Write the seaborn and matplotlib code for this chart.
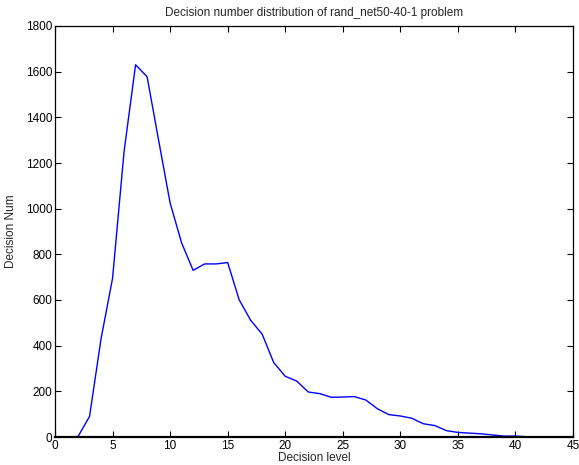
import matplotlib
matplotlib.use("Agg")
import matplotlib.pyplot as plt
import seaborn as sns
import pandas as pd

decision_level = list(range(1, 46))
decision_num = [0, 2, 90, 430, 695, 1250, 1630, 1578, 1300, 1025,
                850, 730, 758, 758, 764, 601, 511, 450, 326, 266,
                245, 197, 190, 174, 175, 177, 162, 124, 98, 92,
                82, 58, 50, 28, 20, 17, 14, 9, 4, 4,
                1, 0, 0, 0, 0]
x_ticks = [0, 5, 10, 15, 20, 25, 30, 35, 40, 45]
y_ticks = [0, 200, 400, 600, 800, 1000, 1200, 1400, 1600, 1800]

df = pd.DataFrame({"Decision level": decision_level, "Decision Num": decision_num})

sns.set_theme(style="white")
plt.rcParams['font.family'] = ['Liberation Sans', 'DejaVu Sans']

fig = plt.figure(figsize=(5.79, 4.65), dpi=100)
ax = fig.add_axes([55/579, 28/465, 518/579, 411/465])
sns.lineplot(data=df, x="Decision level", y="Decision Num", ax=ax,
             color="#0000ff", linewidth=1.0)
ax.set_xlim(0, 45)
ax.set_ylim(0, 1800)
ax.set_xticks(x_ticks)
ax.set_yticks(y_ticks)
ax.tick_params(direction="in", length=4, width=0.8, labelsize=8.5,
               top=True, right=True, bottom=True, left=True, colors="black", pad=2)
for s in ax.spines.values():
    s.set_color("black")
    s.set_linewidth(0.9)
ax.spines["bottom"].set_linewidth(1.6)
ax.set_xlabel("Decision level", fontsize=8.5, labelpad=0)
ax.set_ylabel("Decision Num", fontsize=8.5, labelpad=6)
ax.set_title("Decision number distribution of rand_net50-40-1 problem", fontsize=8.5, pad=7)
fig.savefig("out.png", dpi=100)
